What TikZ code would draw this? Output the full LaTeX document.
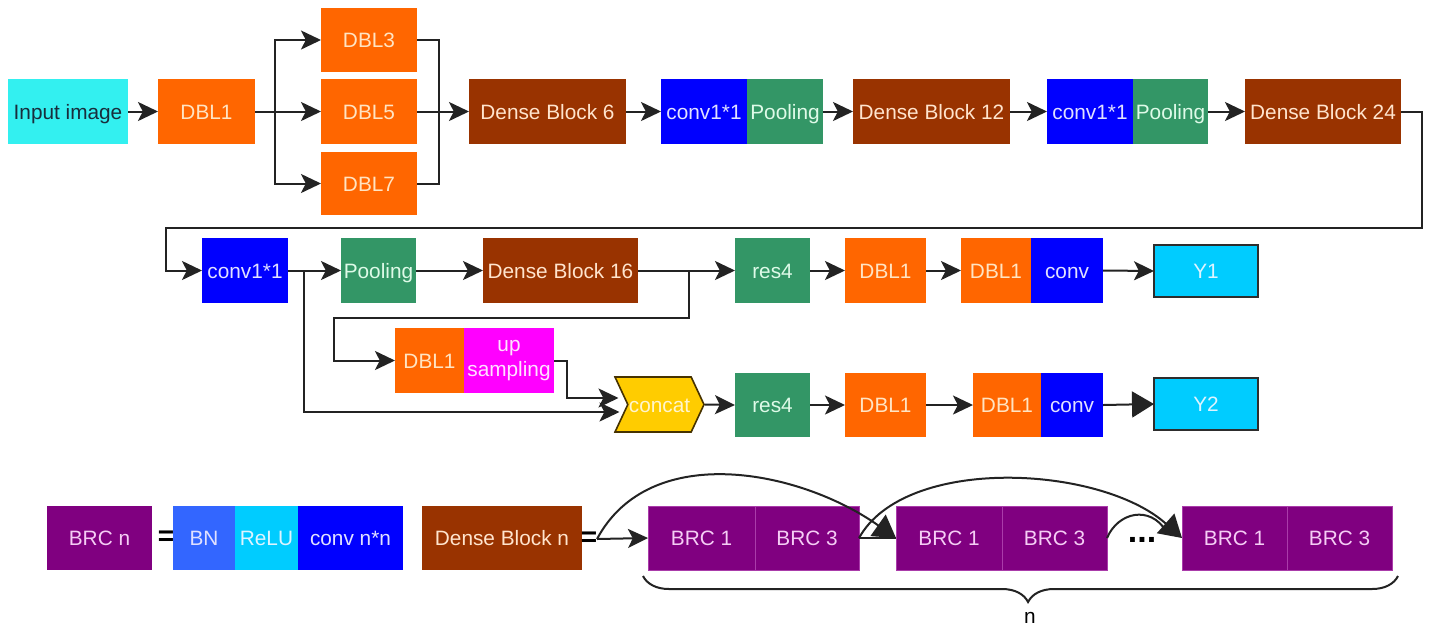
\documentclass[tikz,border=0pt]{standalone}
\usepackage{fontspec}
\setmainfont{Liberation Sans}
\usetikzlibrary{arrows.meta,shapes.symbols,decorations.pathreplacing,calc}
\definecolor{cIn}{RGB}{51,240,240}
\definecolor{tIn}{RGB}{25,45,60}
\definecolor{cOr}{RGB}{255,102,0}
\definecolor{tOr}{RGB}{255,228,195}
\definecolor{cBr}{RGB}{153,51,0}
\definecolor{tBr}{RGB}{255,228,205}
\definecolor{cBl}{RGB}{0,0,255}
\definecolor{tBl}{RGB}{225,225,255}
\definecolor{cGr}{RGB}{51,150,102}
\definecolor{tGr}{RGB}{222,250,232}
\definecolor{cMa}{RGB}{255,0,255}
\definecolor{tMa}{RGB}{255,225,255}
\definecolor{cYe}{RGB}{255,204,0}
\definecolor{cYeD}{RGB}{70,50,0}
\definecolor{tYe}{RGB}{255,245,205}
\definecolor{cY}{RGB}{0,204,255}
\definecolor{cYD}{RGB}{45,45,45}
\definecolor{tY}{RGB}{222,244,255}
\definecolor{cPu}{RGB}{128,0,128}
\definecolor{cPuL}{RGB}{170,60,170}
\definecolor{tPu}{RGB}{245,205,245}
\definecolor{cBN}{RGB}{51,102,255}
\definecolor{cRe}{RGB}{0,204,255}
\definecolor{cLine}{RGB}{35,35,35}
\begin{document}
\begin{tikzpicture}[x=0.5pt,y=-0.5pt,
  font=\fontsize{10.4}{12}\selectfont,
  blk/.style={rectangle,inner sep=0pt,outer sep=0pt,draw=none,text height=7.6pt,text depth=0pt},
  sz/.style 2 args={minimum width=#1*0.5pt,minimum height=#2*0.5pt},
  bIn/.style={blk,fill=cIn,text=tIn},
  bOr/.style={blk,fill=cOr,text=tOr},
  bBr/.style={blk,fill=cBr,text=tBr},
  bBl/.style={blk,fill=cBl,text=tBl},
  bGr/.style={blk,fill=cGr,text=tGr},
  bMa/.style={rectangle,inner sep=0pt,outer sep=0pt,fill=cMa,text=tMa},
  bY/.style={blk,fill=cY,text=tY,draw=cYD,line width=1pt},
  bPu/.style={blk,fill=cPu,text=tPu},
  bPuG/.style={blk,fill=cPu,text=tPu,draw=cPuL,line width=0.4pt},
  bBN/.style={blk,fill=cBN,text=tBl},
  bRe/.style={blk,fill=cRe,text=tY},
  line/.style={draw=cLine,line width=1pt},
  arr/.style={line,-{Stealth[length=10pt,width=9.5pt,inset=2.4pt]}},
  bigarr/.style={line,-{Triangle[length=11pt,width=13pt]}},
  eqs/.style={font=\fontsize{14}{14}\selectfont\bfseries,inner sep=0pt}]
\fill[white] (0,0) rectangle (1429,628);
\useasboundingbox (0,0) rectangle (1429,628);
% ---------- row 1
\node[bIn,sz={120}{65}] (in) at (68,111.5) {Input image};
\node[bOr,sz={97}{65}] (dbl1) at (206.5,111.5) {DBL1};
\node[bOr,sz={96}{64}] (dbl3) at (369,40) {DBL3};
\node[bOr,sz={96}{65}] (dbl5) at (369,111.5) {DBL5};
\node[bOr,sz={96}{63}] (dbl7) at (369,183.5) {DBL7};
\node[bBr,sz={157}{65}] (db6) at (547.5,111.5) {Dense Block 6};
\node[bBl,sz={86}{65}] (conva) at (704,111.5) {conv1*1};
\node[bGr,sz={76}{65}] (poola) at (785,111.5) {Pooling};
\node[bBr,sz={157}{65}] (db12) at (931.5,111.5) {Dense Block 12};
\node[bBl,sz={86}{65}] (convb) at (1090,111.5) {conv1*1};
\node[bGr,sz={75}{65}] (poolb) at (1170.5,111.5) {Pooling};
\node[bBr,sz={156}{65}] (db24) at (1323,111.5) {Dense Block 24};
% ---------- row 2
\node[bBl,sz={86}{65}] (convc) at (245,270.5) {conv1*1};
\node[bGr,sz={75}{65}] (poolc) at (378.5,270.5) {Pooling};
\node[bBr,sz={155}{65}] (db16) at (560.5,270.5) {Dense Block 16};
\node[bGr,sz={75}{65}] (res4a) at (772.5,270.5) {res4};
\node[bOr,sz={81}{65}] (dbl1a) at (885.5,270.5) {DBL1};
\node[bOr,sz={70}{65}] (dbl1b) at (996,270.5) {DBL1};
\node[bBl,sz={72}{65}] (convy1) at (1067,270.5) {conv};
\node[bY,sz={104}{52}] (y1) at (1206,271) {Y1};
% ---------- up sampling / row 3
\node[bOr,sz={69}{65}] (dblu) at (429.5,360.5) {DBL1};
\node[bMa,sz={90}{65},align=center,font=\fontsize{10.4}{12.5}\selectfont] (up) at (509,360.5) {up\\sampling};
\node[signal,signal from=west,signal to=east,signal pointer angle=130,
      fill=cYe,draw=cYeD,line width=0.8pt,text=tYe,inner sep=0pt,
      text height=7.6pt,text depth=0pt,
      minimum width=89*0.5pt,minimum height=55*0.5pt] (concat) at (659.5,404.5) {concat};
\node[bGr,sz={75}{64}] (res4b) at (772.5,405) {res4};
\node[bOr,sz={81}{64}] (dbl1c) at (885.5,405) {DBL1};
\node[bOr,sz={68}{64}] (dbl1d) at (1007,405) {DBL1};
\node[bBl,sz={62}{64}] (convy2) at (1072,405) {conv};
\node[bY,sz={104}{52}] (y2) at (1206,404) {Y2};
% ---------- connectors row 1
\coordinate (sp1) at (275,111.5);
\coordinate (jn) at (439,111.5);
\draw[arr] (in.east) -- (dbl1.west);
\draw[line] (dbl1.east) -- (sp1);
\draw[arr] (sp1) |- (dbl3.west);
\draw[arr] (sp1) -- (dbl5.west);
\draw[arr] (sp1) |- (dbl7.west);
\draw[line] (dbl3.east) -| (jn) |- (dbl7.east);
\draw[arr] (dbl5.east) -- (db6.west);
\draw[arr] (db6.east) -- (conva.west);
\draw[arr] (poola.east) -- (db12.west);
\draw[arr] (db12.east) -- (convb.west);
\draw[arr] (poolb.east) -- (db24.west);
\coordinate (c1) at (1422,228);
\coordinate (c2) at (166,228);
\draw[arr] (db24.east) -| (c1) -- (c2) |- (convc.west);
% ---------- connectors row 2/3
\coordinate (sp2) at (304,270.5);
\draw[arr] (convc.east) -- (poolc.west);
\draw[arr] (sp2) |- ($(concat.center)+(-40,7.5)$);
\draw[arr] (poolc.east) -- (db16.west);
\draw[arr] (db16.east) -- (res4a.west);
\coordinate (sp3) at (689,270.5);
\coordinate (c4) at (334,318);
\draw[arr] (sp3) |- (c4) |- (dblu.west);
\coordinate (c3) at (567,398);
\draw[arr] (up.east) -| (c3) -- ($(concat.center)+(-41,-6.5)$);
\draw[arr] (res4a.east) -- (dbl1a.west);
\draw[arr] (dbl1a.east) -- (dbl1b.west);
\draw[arr] (convy1.east) -- (y1.west);
\draw[arr] (concat.east) -- (res4b.west);
\draw[arr] (res4b.east) -- (dbl1c.west);
\draw[arr] (dbl1c.east) -- (dbl1d.west);
\draw[bigarr] (convy2.east) -- (y2.west);
% ---------- legend
\node[bPu,sz={105}{64}] (brcn) at (99.5,538) {BRC n};
\node[eqs] (eq1) at (166,538) {=};
\node[bBN,sz={62}{64}] (bn) at (204,538) {BN};
\node[bRe,sz={63}{64}] (relu) at (266.5,538) {ReLU};
\node[bBl,sz={105}{64}] (convn) at (350.5,538) {conv n*n};
\node[bBr,sz={160}{64}] (dbn) at (502,538) {Dense Block n};
\node[eqs] (eq2) at (589,539) {=};
\node[bPuG,sz={107}{64}] (g1a) at (701.5,538) {BRC 1};
\node[bPuG,sz={104}{64}] (g1b) at (807,538) {BRC 3};
\node[bPuG,sz={106}{64}] (g2a) at (949,538) {BRC 1};
\node[bPuG,sz={105}{64}] (g2b) at (1054.5,538) {BRC 3};
\node[font=\fontsize{17}{17}\selectfont\bfseries,inner sep=0pt] (dots) at (1142,540) {...};
\node[bPuG,sz={105}{64}] (g3a) at (1234.5,538) {BRC 1};
\node[bPuG,sz={105}{64}] (g3b) at (1339.5,538) {BRC 3};
\coordinate (eqr) at (597,539);
\draw[arr] (eqr) -- (g1a.west);
\draw[line] (g1b.east) -- (g2a.west);
\draw[bigarr] (eqr) .. controls (650,440) and (800,470) .. (g2a.west);
\draw[bigarr] (g1b.east) .. controls (905,455) and (1100,465) .. (g3a.west);
\draw[line] (g2b.east) .. controls (1118,512) and (1150,505) .. ($(g3a.west)+(-16,-7)$);
\coordinate (brs) at (643,576);
\coordinate (bre) at (1398,576);
\draw[line,decorate,decoration={brace,mirror,amplitude=13pt,aspect=0.51}] (brs) -- (bre);
\node (nlab) at (1030,618) {n};
\end{tikzpicture}
\end{document}
